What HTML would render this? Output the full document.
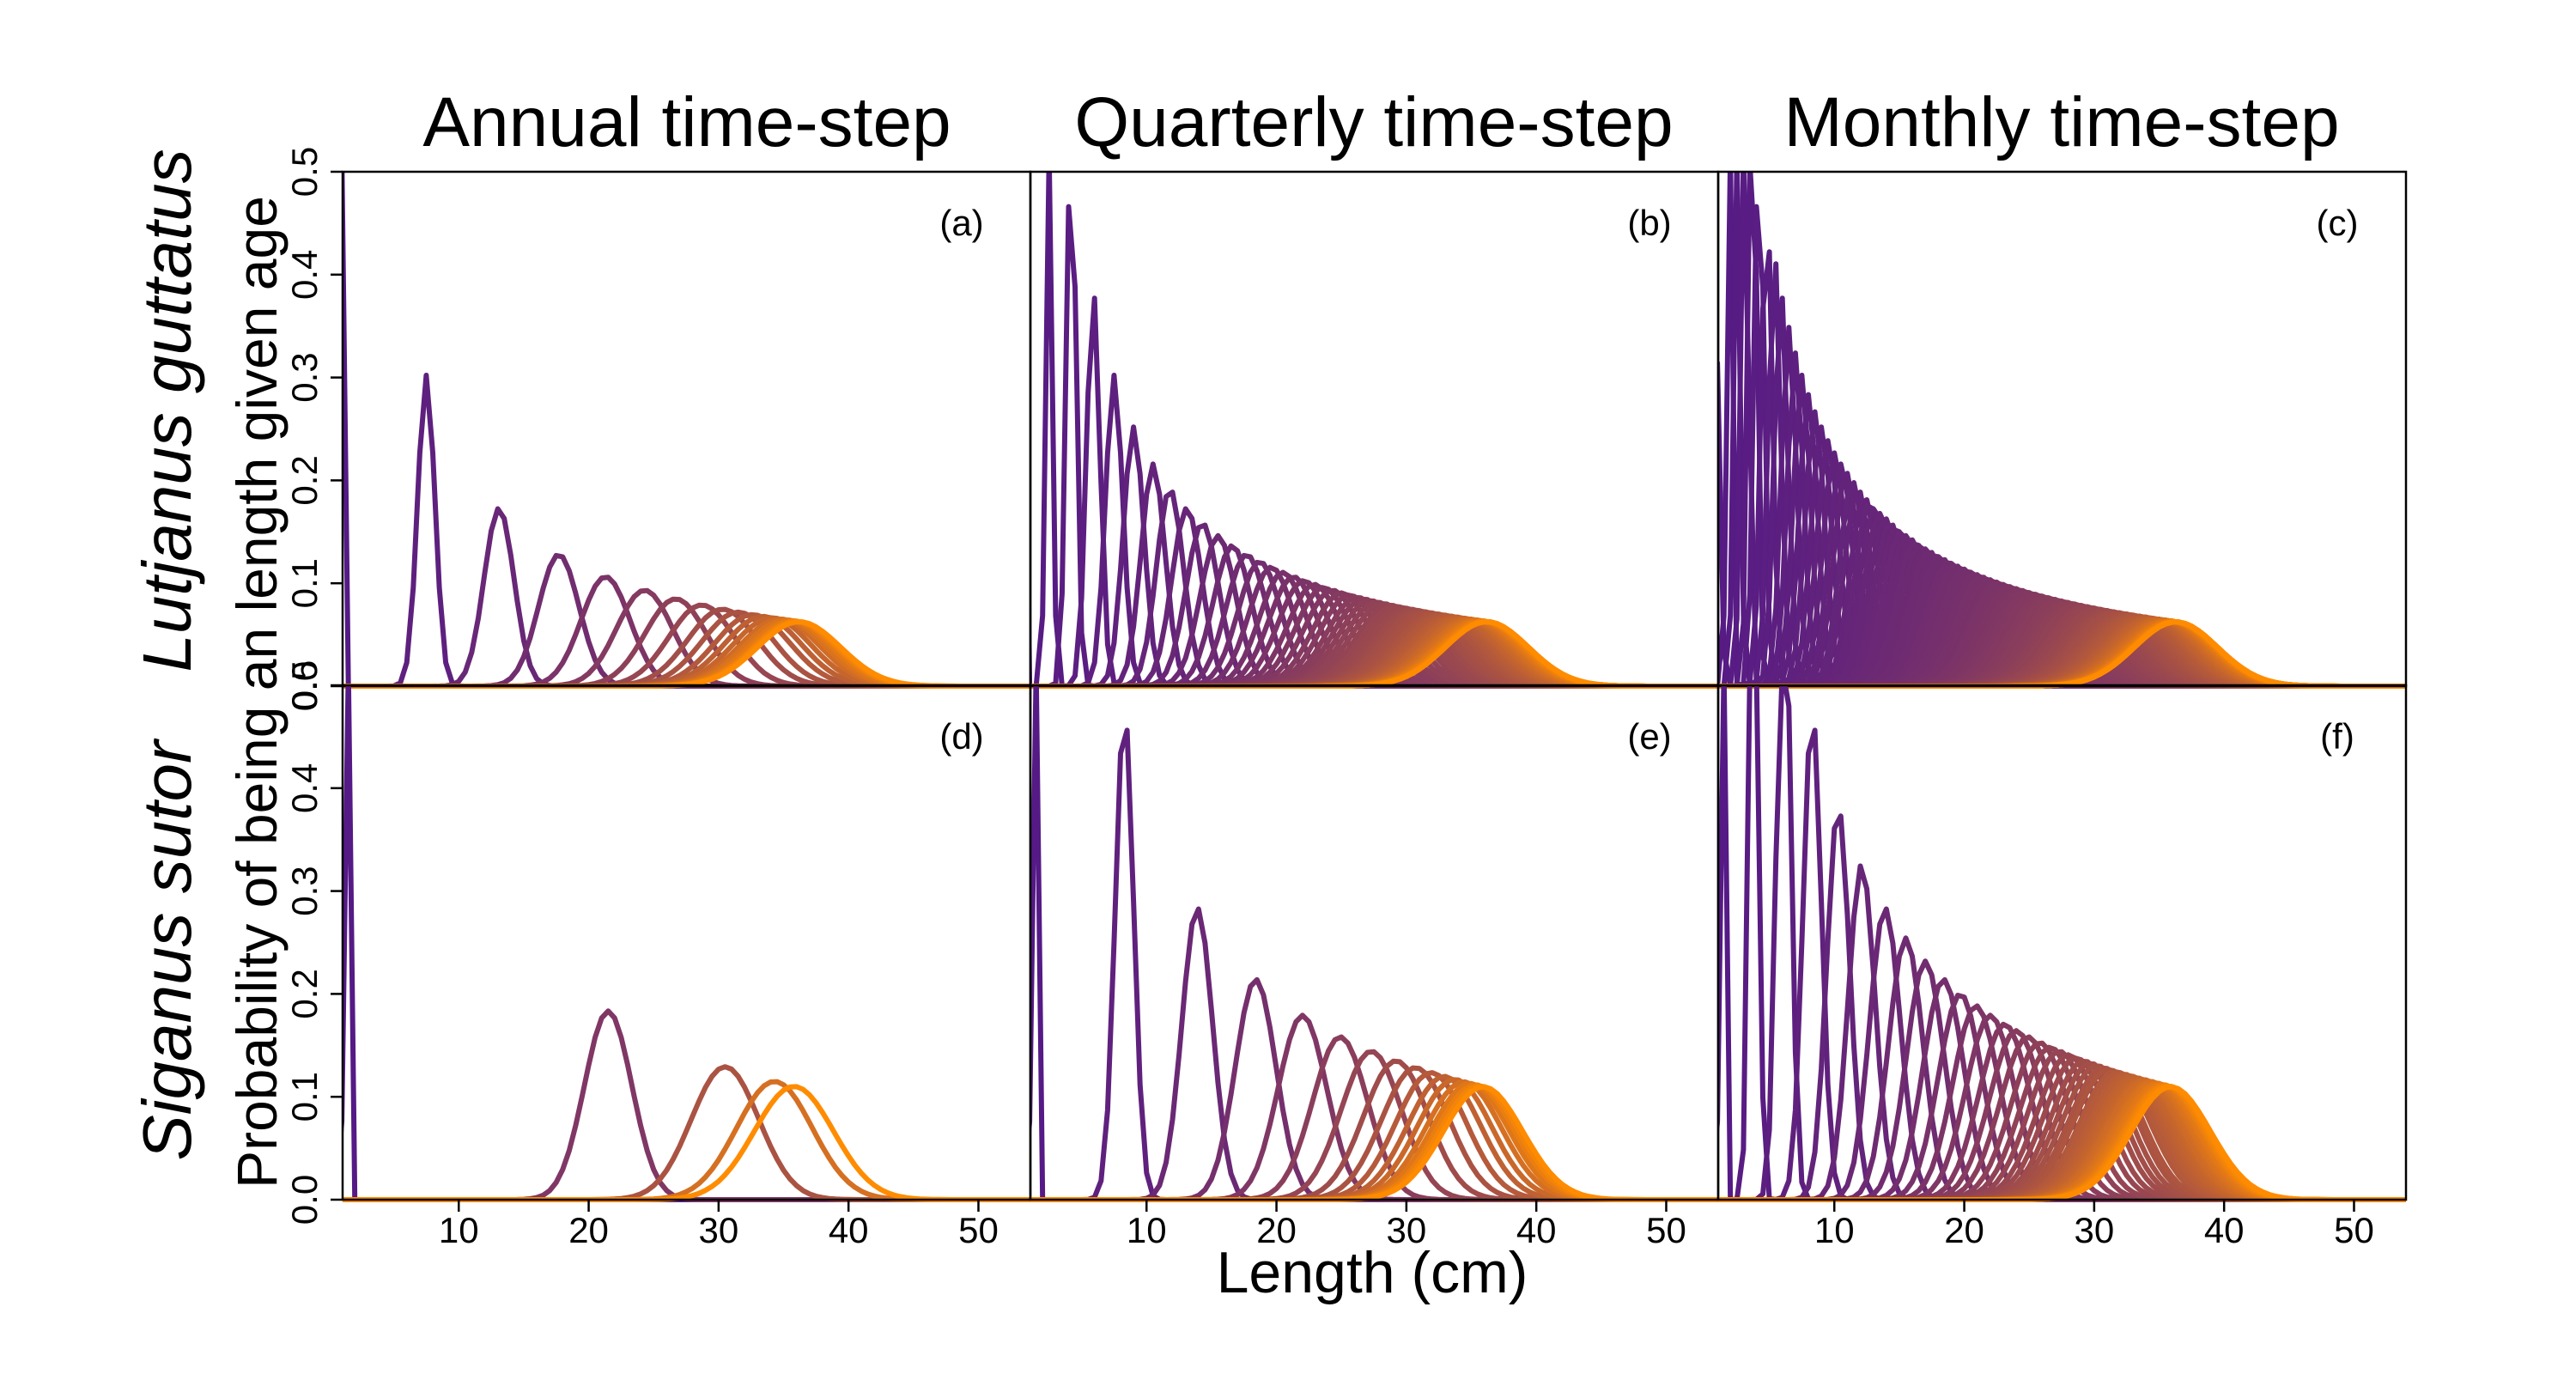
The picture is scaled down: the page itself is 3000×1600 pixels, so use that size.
<!DOCTYPE html>
<html><head><meta charset="utf-8"><style>
html,body{margin:0;padding:0;background:#fff;}
svg{display:block;}
text{font-family:"Liberation Sans",sans-serif;fill:#000;}
</style></head><body>
<svg id="fig" width="3000" height="1600" viewBox="0 0 3000 1600" xmlns="http://www.w3.org/2000/svg">
<rect width="3000" height="1600" fill="#fff"/>
<text x="800" y="170" font-size="82" text-anchor="middle">Annual time-step</text>
<text x="1600" y="170" font-size="82" text-anchor="middle">Quarterly time-step</text>
<text x="2401" y="170" font-size="82" text-anchor="middle">Monthly time-step</text>
<text transform="translate(222,478) rotate(-90)" font-size="80" font-style="italic" text-anchor="middle">Lutjanus guttatus</text>
<text transform="translate(222,1107) rotate(-90)" font-size="80" font-style="italic" text-anchor="middle">Siganus sutor</text>
<text transform="translate(322,806) rotate(-90)" font-size="66" text-anchor="middle">Probability of being an length given age</text>
<text x="1598" y="1505" font-size="68" text-anchor="middle">Length (cm)</text>
<g id="panels"></g>
</svg>
<script>
// ---- data: mean length at age (cm) for each panel ----
const lutAnnual = [1.0,7.5,13.1,17.7,21.3,24.3,26.7,28.7,30.3,31.5,32.6,33.4,34.1,34.7,35.1,35.5,35.8,36.0,36.2];
const lutQuarterly = [0.6,2.5,4.2,5.9, 7.5,9.0,10.5,11.8, 13.1,14.3,15.5,16.6, 17.7,18.7,19.6,20.5, 21.3,22.1,22.9,23.6, 24.3,25.0,25.6,26.2, 26.7,27.2,27.7,28.2, 28.7,29.1,29.5,29.9, 30.3,30.6,30.9,31.2, 31.5,31.8,32.1,32.3, 32.6,32.8,33.0,33.2, 33.4,33.6,33.8,33.9, 34.1,34.3,34.4,34.5, 34.7,34.8,34.9,35.0, 35.1,35.2,35.3,35.4, 35.5,35.5,35.6,35.7, 35.8,35.8,35.9,35.9, 36.0,36.0,36.1,36.1, 36.1,36.2,36.2,36.2];
const lutMonthly = [0.6,1.2,1.9,2.5,3.1,3.7,4.2,4.8,5.4,5.9,6.5,7.0,
 7.5,8.0,8.5,9.0,9.5,10.0,10.5,10.9,11.4,11.8,12.3,12.7,
 13.1,13.5,13.9,14.3,14.7,15.1,15.5,15.9,16.2,16.6,17.0,17.3,
 17.7,18.0,18.3,18.7,19.0,19.3,19.6,19.9,20.2,20.5,20.8,21.1,
 21.3,21.6,21.9,22.1,22.4,22.6,22.9,23.1,23.4,23.6,23.9,24.1,
 24.3,24.5,24.7,25.0,25.2,25.4,25.6,25.8,26.0,26.2,26.4,26.5,
 26.7,26.9,27.1,27.2,27.4,27.6,27.7,27.9,28.1,28.2,28.4,28.5,
 28.7,28.8,29.0,29.1,29.2,29.4,29.5,29.6,29.8,29.9,30.0,30.1,
 30.3,30.4,30.5,30.6,30.7,30.8,30.9,31.0,31.1,31.2,31.3,31.4,
 31.5,31.6,31.7,31.8,31.9,32.0,32.1,32.2,32.3,32.3,32.4,32.5,
 32.6,32.6,32.7,32.8,32.9,32.9,33.0,33.1,33.2,33.2,33.3,33.4,
 33.4,33.5,33.5,33.6,33.7,33.7,33.8,33.8,33.9,33.9,34.0,34.1,
 34.1,34.2,34.2,34.3,34.3,34.3,34.4,34.4,34.5,34.5,34.6,34.6,
 34.7,34.7,34.7,34.8,34.8,34.8,34.9,34.9,35.0,35.0,35.0,35.1,
 35.1,35.1,35.2,35.2,35.2,35.3,35.3,35.3,35.3,35.4,35.4,35.4,
 35.5,35.5,35.5,35.5,35.6,35.6,35.6,35.6,35.7,35.7,35.7,35.7,
 35.8,35.8,35.8,35.8,35.8,35.8,35.9,35.9,35.9,35.9,35.9,35.9,
 36.0,36.0,36.0,36.0,36.0,36.0,36.1,36.1,36.1,36.1,36.1,36.1,
 36.1,36.1,36.1,36.1,36.2,36.2,36.2,36.2,36.2,36.2,36.2,36.2,
 36.2,36.2,36.2,36.2,36.2,36.3,36.3,36.3,36.3,36.3,36.3,36.3];
const sigAnnual = [1.3,21.5,30.5,34.3,35.8];
const sigQuarterly = [1.3,8.3,13.9,18.4,22.0,24.9,27.3,29.2,30.7,31.9,32.9,33.7,34.4,34.9,35.3,35.6,35.9];
const sigMonthly = [1.3,3.8,6.1,8.3,10.3,12.1,13.9,15.5,17.0,18.4,19.7,20.9,
 22.0,23.1,24.0,24.9,25.8,26.6,27.3,28.0,28.6,29.2,29.7,30.2,
 30.7,31.1,31.6,31.9,32.3,32.6,32.9,33.2,33.5,33.7,33.9,34.2,
 34.4,34.5,34.7,34.9,35.0,35.2,35.3,35.4,35.5,35.6,35.7,35.8,35.9];
// length CV and bin width per species
const speciesCV = [0.088, 0.085];
const speciesBin = [0.5, 0.84];
const yTicks = [0.0,0.1,0.2,0.3,0.4,0.5];
const yTickLabels = ["0.0","0.1","0.2","0.3","0.4","0.5"];
const xTicks = [10,20,30,40,50];
const xTickLabels = ["10","20","30","40","50"];
const panelLetters = ["(a)","(b)","(c)","(d)","(e)","(f)"];

const NS = "http://www.w3.org/2000/svg";
const XMIN = 1.06, XMAX = 54.0, YMIN = 0, YMAX = 0.5;
const colL = [399,1200,2001], colW = 801;
const rowT = [200,798], rowH = 599;
const panelsG = document.getElementById('panels');

function mk(tag, attrs, parent){
  const e = document.createElementNS(NS, tag);
  for (const k in attrs) e.setAttribute(k, attrs[k]);
  parent.appendChild(e); return e;
}
function colorAt(t){
  const c0=[85,26,134], c1=[255,140,0];
  return 'rgb('+c0.map((v,j)=>Math.round(v+(c1[j]-v)*t)).join(',')+')';
}
const panelData = [[lutAnnual,lutQuarterly,lutMonthly],[sigAnnual,sigQuarterly,sigMonthly]];
const panelNames = [["panel-a-lutjanus-annual","panel-b-lutjanus-quarterly","panel-c-lutjanus-monthly"],["panel-d-siganus-annual","panel-e-siganus-quarterly","panel-f-siganus-monthly"]];

for(let r=0;r<2;r++){
  for(let c=0;c<3;c++){
    const L=colL[c], T=rowT[r];
    const xs = v => L + (v-XMIN)/(XMAX-XMIN)*colW;
    const ys = v => T + rowH - (v-YMIN)/(YMAX-YMIN)*rowH;
    const g = mk('g',{},panelsG);
    
    
    const cid='clip'+r+c;
    const cp=mk('clipPath',{id:cid},g);
    mk('rect',{x:L,y:T,width:colW,height:rowH+4},cp);
    const lines=mk('g',{'clip-path':'url(#'+cid+')',fill:'none','stroke-width':6,'stroke-linejoin':'round'},g);
    
    
    const means=panelData[r][c], n=means.length;
    for(let i=0;i<n;i++){
      const m=Math.max(means[i],0.3);
      const sd=speciesCV[r]*m;
      const h=speciesBin[r]*0.3989/sd;
      let d='';
      for(let x=0.5;x<=55;x+=0.5){
        const p=h*Math.exp(-((x-m)*(x-m))/(2*sd*sd));
        const py=Math.max(ys(Math.min(p,0.6)),T-20);
        d+=(d?'L':'M')+xs(x).toFixed(1)+' '+py.toFixed(1);
      }
      const path=mk('path',{d:d,stroke:colorAt(n>1?i/(n-1):1)},lines);
      
      
    }
    const box=mk('rect',{x:L,y:T,width:colW,height:rowH,fill:'none',stroke:'#000','stroke-width':2.5},g);
    
    
    const lab=mk('text',{x:L+colW-80,y:T+74,'font-size':42,'text-anchor':'middle'},g);
    lab.textContent=panelLetters[r*3+c];
    
    
    if(c===0){
      yTicks.forEach((v,k)=>{
        const y=ys(v);
        const tk=mk('line',{x1:L,x2:L-14,y1:y,y2:y,stroke:'#000','stroke-width':2.5},g);
        
        
        const t=mk('text',{transform:'translate(369,'+y+') rotate(-90)','font-size':42,'text-anchor':'middle'},g);
        t.textContent=yTickLabels[k];
        
        
      });
    }
    if(r===1){
      xTicks.forEach((v,k)=>{
        const x=xs(v);
        const tk=mk('line',{x1:x,x2:x,y1:T+rowH,y2:T+rowH+14,stroke:'#000','stroke-width':2.5},g);
        
        
        const t=mk('text',{x:x,y:1447,'font-size':42,'text-anchor':'middle'},g);
        t.textContent=xTickLabels[k];
        
        
      });
    }
  }
}
</script>
</body></html>
